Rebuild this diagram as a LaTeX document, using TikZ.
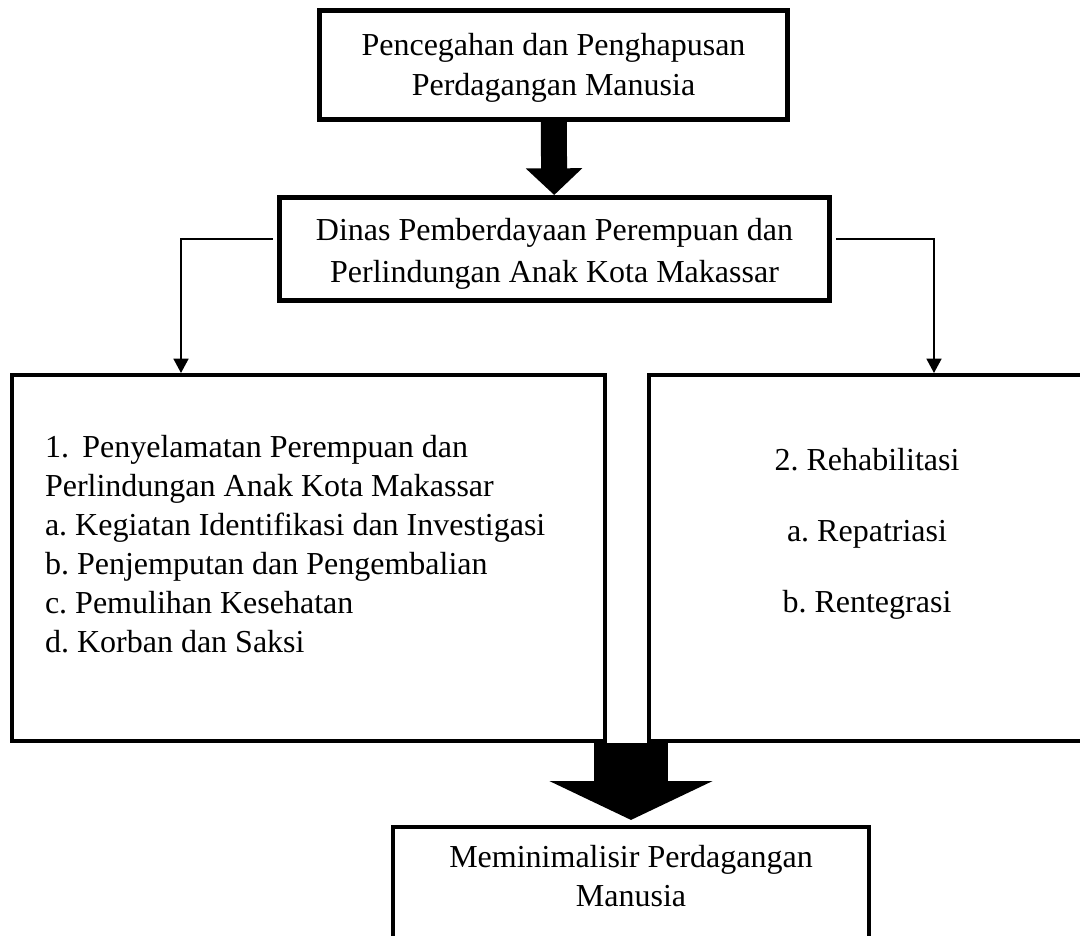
\documentclass[tikz,border=0pt]{standalone}
\usepackage{fontspec}
\setmainfont{Liberation Serif}
\usepackage{tikz}
\usetikzlibrary{positioning,arrows.meta}
\frenchspacing

\begin{document}
\begin{tikzpicture}[x=0.375pt,y=-0.375pt,>={Triangle[width=5.6pt,length=5.4pt]},
    every node/.style={font=\fontsize{12}{15}\selectfont},
    frame/.style={draw,line width=1.9pt,align=center,inner sep=0pt},
    plainframe/.style={draw,line width=1.5pt,inner sep=0pt},
    link/.style={->,line width=0.75pt}]
  \useasboundingbox (0,0) rectangle (1080,936);
  % --- top: source of the programme ---
  \node[frame,minimum width=175.5pt,minimum height=40.9pt,text height=25.4pt] (prevent) at (553.5,65)
       {Pencegahan dan Penghapusan\\Perdagangan Manusia};
  % --- the office in charge ---
  \node[frame,minimum width=206.25pt,minimum height=38.6pt,text height=27.8pt] (dinas) at (554.5,249)
       {Dinas Pemberdayaan Perempuan dan\\[0.75pt]Perlindungan Anak Kota Makassar};
  \draw[line width=9.75pt,-{Triangle[width=20.6pt,length=10pt]}] (prevent) -- (dinas);
  % --- the two branches ---
  \node[plainframe,align=flush left,text width=197.6pt,minimum width=222.4pt,
        minimum height=137.25pt,text depth=83.5pt,font=\fontsize{12}{14.6}\selectfont] (rescue) at (308.5,558)
       {1.\hspace{5pt}Penyelamatan Perempuan dan\\
        Perlindungan Anak Kota Makassar\\
        a. Kegiatan Identifikasi dan Investigasi\\
        b. Penjemputan dan Pengembalian\\
        c. Pemulihan Kesehatan\\
        d. Korban dan Saksi};
  \node[plainframe,align=center,minimum width=163.5pt,minimum height=137.25pt,
        text depth=21pt] (rehab) at (867,558)
       {2. Rehabilitasi\\[11.6pt]a. Repatriasi\\[11.6pt]b. Rentegrasi};
  \coordinate (rescuein) at (181,373);
  \coordinate (rehabin) at (934,373);
  \draw[link,shorten <=1.5pt] ([yshift=3.75pt]dinas.west) -| (rescuein);
  \draw[link,shorten <=1.5pt] ([yshift=3.75pt]dinas.east) -| (rehabin);
  % --- outcome ---
  \node[plainframe,align=center,anchor=north,minimum width=178.5pt,inner ysep=6.9pt,
        text depth=40pt] (goal) at (631,825)
       {Meminimalisir Perdagangan\\[-0.6pt]Manusia};
  \coordinate (merge) at (631,743);
  \draw[line width=28pt,-{Triangle[width=60.75pt,length=14.6pt]},shorten >=1.9pt]
       (merge) -- (goal.north);
\end{tikzpicture}
\end{document}
